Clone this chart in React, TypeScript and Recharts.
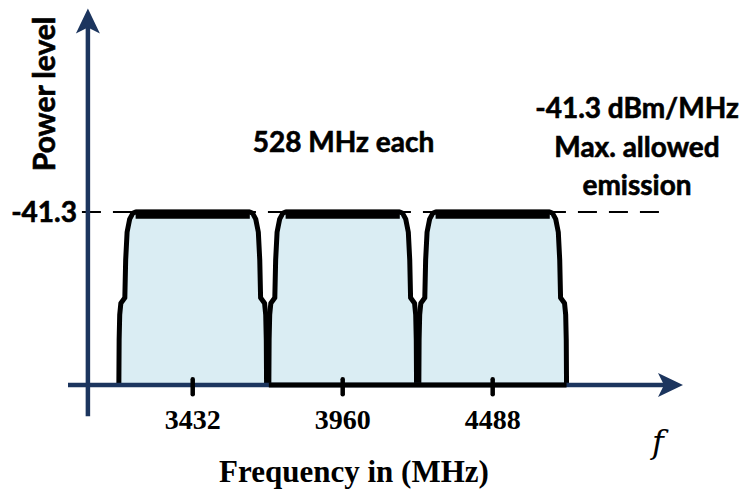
import React from 'react';
import { ComposedChart, Area, Line, XAxis, YAxis, ReferenceLine } from 'recharts';

// centre frequency of each 528 MHz band (MHz)
const bandCenters = [3432, 3960, 4488];
const bandNames = ['Band 1', 'Band 2', 'Band 3'];
const freqTicks = [3432, 3960, 4488];

// band outline: offset from centre (MHz) and level (dBm/MHz)
const edgeOffsets = [-260, -259, -257, -253, -239, -236, -231, -222, -211, -201, 201, 211, 222, 231, 236, 239, 253, 257, 259, 260];
const edgeLevels = [-80, -69.9, -64.3, -61.7, -60.5, -52.0, -45.8, -42.9, -41.6, -41.3, -41.3, -41.6, -42.9, -45.8, -52.0, -60.5, -61.7, -64.3, -69.9, -80];

const maskLevel = -41.3;
const crestLevel = -41.8; // thick rippled top edge
const floorLevel = -80;

const AXIS = '#1c355e';
const FILL = '#daedf3';
const SERIF = '"Liberation Serif", "Times New Roman", serif';
const SANS = 'Lato, "Open Sans", sans-serif';

const rows: any[] = [];
bandCenters.forEach((c, i) => {
  edgeOffsets.forEach((off, j) => {
    const row: any = { freq: c + off };
    row['band' + (i + 1)] = edgeLevels[j];
    if (Math.abs(off) === 201) row.crest = crestLevel;
    if ((i === 1 && j === 0) || (i === 2 && j === edgeOffsets.length - 1)) row.floor = floorLevel;
    rows.push(row);
  });
});

const Arrow = (props: any) => {
  const { x1, y1, x2, y2 } = props;
  if (Math.abs(x1 - x2) < 1) {
    const x = x1;
    const tip = Math.min(y1, y2) - 1;
    const bot = Math.max(y1, y2);
    return (
      <g>
        <line x1={x} x2={x} y1={bot} y2={tip + 18} stroke={AXIS} strokeWidth={4.5} />
        <path d={`M${x},${tip} L${x + 12},${tip + 25} L${x},${tip + 19} L${x - 12},${tip + 25} Z`} fill={AXIS} />
      </g>
    );
  }
  const y = y1;
  const left = Math.min(x1, x2) - 2;
  const tip = Math.max(x1, x2);
  return (
    <g>
      <line x1={left} x2={tip - 18} y1={y} y2={y} stroke={AXIS} strokeWidth={4.5} />
      <path d={`M${tip},${y} L${tip - 25},${y - 12} L${tip - 19},${y} L${tip - 25},${y + 12} Z`} fill={AXIS} />
    </g>
  );
};

const FreqTick = (props: any) => {
  const { x, y, payload } = props;
  return (
    <g>
      <line x1={x} x2={x} y1={y - 37} y2={y - 22} stroke="#000" strokeWidth={4.5} strokeLinecap="round" />
      <text x={x} y={y + 13} textAnchor="middle" fontFamily={SERIF} fontWeight="bold" fontSize={28} fill="#000">
        {payload.value}
      </text>
    </g>
  );
};

const LevelTick = (props: any) => {
  const { x, y, payload } = props;
  return (
    <text x={x + 7} y={y + 10} textAnchor="end" fontFamily={SANS} fontWeight="bold" fontSize={28} fill="#000" stroke="#000" strokeWidth={0.6}>
      {payload.value}
    </text>
  );
};

const labelX = [200, 355, 496];

const sansBold = { fontFamily: SANS, fontWeight: 'bold', fill: '#000', stroke: '#000', strokeWidth: 0.6 } as const;

export default function App() {
  return (
    <div style={{ position: 'absolute', left: 0, top: 0, width: 746, height: 496, background: '#fff' }}>
      <ComposedChart width={746} height={496} data={rows} margin={{ top: 9.5, right: 63, left: 0, bottom: 0 }}>
        <XAxis
          dataKey="freq"
          type="number"
          domain={[3000, 5158]}
          allowDataOverflow
          ticks={freqTicks}
          axisLine={false}
          tickLine={false}
          tickSize={0}
          tickMargin={0}
          height={79.7}
          tick={<FreqTick />}
        />
        <YAxis
          type="number"
          domain={[-87, 4]}
          allowDataOverflow
          ticks={[maskLevel]}
          axisLine={false}
          tickLine={false}
          tickSize={0}
          tickMargin={0}
          width={70}
          tick={<LevelTick />}
        />
        <ReferenceLine
          segment={[{ x: 3042, y: maskLevel }, { x: 5105, y: maskLevel }]}
          stroke="#000"
          strokeWidth={2}
          strokeDasharray="19 12"
        />
        {bandCenters.map((c, i) => (
          <Area
            key={c}
            dataKey={'band' + (i + 1)}
            type="linear"
            baseValue={floorLevel}
            stroke="#000"
            strokeWidth={5}
            strokeLinejoin="round"
            fill={FILL}
            fillOpacity={1}
            isAnimationActive={false}
            dot={false}
            activeDot={false}
          />
        ))}
        <ReferenceLine y={floorLevel} shape={<Arrow />} />
        <ReferenceLine x={3063} shape={<Arrow />} />
        <Line dataKey="floor" stroke="#000" strokeWidth={5} connectNulls dot={false} activeDot={false} isAnimationActive={false} />
        <Line dataKey="crest" stroke="#000" strokeWidth={9} dot={false} activeDot={false} isAnimationActive={false} />

        {bandNames.map((n, i) => (
          <text key={n} x={labelX[i]} y={279} textAnchor="middle" fontFamily={SERIF} fontSize={26} fill="#111">
            {n}
          </text>
        ))}
        <text transform="rotate(-90, 55, 94)" x={55} y={94} textAnchor="middle" fontSize={30} {...sansBold}>
          Power level
        </text>
        <text x={343.5} y={152} textAnchor="middle" fontSize={28} {...sansBold}>
          528 MHz each
        </text>
        <text x={637} y={118} textAnchor="middle" fontSize={28} {...sansBold}>
          -41.3 dBm/MHz
        </text>
        <text x={637} y={157} textAnchor="middle" fontSize={28} {...sansBold}>
          Max. allowed
        </text>
        <text x={637} y={195} textAnchor="middle" fontSize={28} {...sansBold}>
          emission
        </text>
        <text x={354} y={482} textAnchor="middle" fontFamily={SERIF} fontWeight="bold" fontSize={31} fill="#000">
          Frequency in (MHz)
        </text>
        <text x={658} y={453} textAnchor="middle" fontFamily={'"DejaVu Serif", serif'} fontStyle="italic" fontSize={32} fill="#000">
          f
        </text>
      </ComposedChart>
    </div>
  );
}
